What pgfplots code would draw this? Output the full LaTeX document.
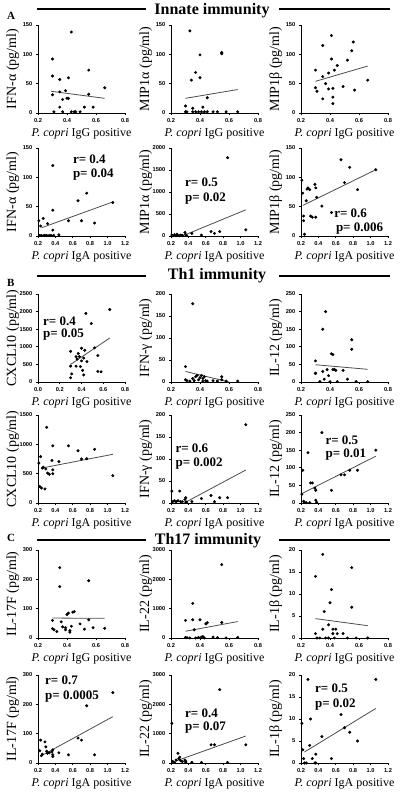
\documentclass[border=0pt]{standalone}
\usepackage{fontspec}
\setmainfont{Liberation Serif}
\newfontfamily\tickfont{Liberation Sans}
\usepackage{pgfplots}
\pgfplotsset{compat=1.18}
\tikzset{stat/.style={font=\bfseries\fontsize{13}{15}\selectfont, anchor=base west, inner sep=0pt}}
\begin{document}
\begin{tikzpicture}[x=1pt,y=1pt]
\useasboundingbox (0,0) rectangle (400,794);
\pgfplotsset{
 panel/.style={
  width=87pt, height=88pt, scale only axis, anchor=south west,
  axis lines=left, axis line style={-, line width=0.9pt},
  tick align=outside, major tick length=2.2pt, tick style={line width=0.8pt, black},
  clip=false, ymin=0,
  tick label style={font=\tickfont\bfseries\fontsize{5.7}{6}\selectfont},
  /pgf/number format/assume math mode=true,
  /pgf/number format/set thousands separator={},
  scaled y ticks=false, scaled x ticks=false,
  xticklabel style={/pgf/number format/fixed, /pgf/number format/precision=1, /pgf/number format/fixed zerofill},
  xtick pos=left, ytick pos=left,
  every axis y label/.style={at={(axis description cs:-0.29,0.5)}, rotate=90, anchor=center, font=\fontsize{14}{15}\selectfont},
  every axis x label/.style={at={(axis description cs:0.5,-0.235)}, anchor=center, font=\fontsize{12}{14}\selectfont},
 },
 igg/.style={xmin=0.2, xmax=0.8, xtick={0.2,0.4,0.6,0.8}, xlabel={\textit{P. copri} IgG positive}},
 iga/.style={xmin=0.2, xmax=1.2, xtick={0.2,0.4,0.6,0.8,1.0,1.2}, xlabel={\textit{P. copri} IgA positive}},
 dots/.style={only marks, mark=*, mark size=1.3pt, black},
 fit/.style={no marks, line width=0.8pt, black!70},
}
% ---------- headers ----------
\draw[line width=1.6pt] (37,785) -- (146,785);
\draw[line width=1.6pt] (279,785) -- (390,785);
\node[font=\bfseries\fontsize{16}{18}\selectfont, anchor=base] at (212,779) {Innate immunity};
\node[font=\bfseries\fontsize{11}{13}\selectfont, anchor=base west, inner sep=0pt] at (7,774) {A};
\draw[line width=1.6pt] (37,518) -- (146,518);
\draw[line width=1.6pt] (279,518) -- (390,518);
\node[font=\bfseries\fontsize{16}{18}\selectfont, anchor=base] at (217,514) {Th1 immunity};
\node[font=\bfseries\fontsize{11}{13}\selectfont, anchor=base west, inner sep=0pt] at (7,507) {B};
\draw[line width=1.6pt] (37,254) -- (146,254);
\draw[line width=1.6pt] (279,254) -- (390,254);
\node[font=\bfseries\fontsize{16}{18}\selectfont, anchor=base] at (208,249) {Th17 immunity};
\node[font=\bfseries\fontsize{11}{13}\selectfont, anchor=base west, inner sep=0pt] at (7,252) {C};

% ================= ROW 1 =================
\begin{axis}[panel, igg, at={(38pt,681pt)}, ymax=150, ytick={0,50,100,150}, ylabel={IFN-α (pg/ml)}]
\addplot[dots] coordinates {(0.30,92) (0.30,63) (0.30,31) (0.31,2) (0.35,57) (0.35,36) (0.35,10) (0.37,23) (0.37,2) (0.39,38) (0.40,25) (0.41,25) (0.41,60) (0.43,138) (0.43,2) (0.45,2) (0.46,2) (0.49,2) (0.52,10) (0.55,73) (0.55,32) (0.58,10) (0.66,43)};
\addplot[fit] coordinates {(0.29,37) (0.66,25)};
\end{axis}
\begin{axis}[panel, igg, at={(171pt,681pt)}, ymax=150, ytick={0,50,100,150}, ylabel={MIP1α (pg/ml)}]
\addplot[dots] coordinates {(0.30,12) (0.30,2) (0.31,2) (0.33,140) (0.34,56) (0.35,8) (0.35,2) (0.37,69) (0.37,2) (0.39,2) (0.40,99) (0.40,60) (0.41,2) (0.42,10) (0.43,2) (0.45,26) (0.45,2) (0.49,2) (0.52,2) (0.55,103) (0.55,101) (0.58,2) (0.66,2)};
\addplot[fit] coordinates {(0.30,25) (0.66,40)};
\end{axis}
\begin{axis}[panel, igg, at={(301pt,681pt)}, ymax=150, ytick={0,50,100,150}, ylabel={MIP1β (pg/ml)}]
\addplot[dots] coordinates {(0.30,73) (0.30,43) (0.31,37) (0.35,115) (0.35,62) (0.35,24) (0.37,50) (0.39,68) (0.39,41) (0.41,92) (0.41,132) (0.42,42) (0.42,27) (0.42,16) (0.43,73) (0.45,81) (0.49,45) (0.52,90) (0.56,121) (0.55,106) (0.57,39) (0.66,56)};
\addplot[fit] coordinates {(0.30,54) (0.66,80)};
\end{axis}

% ================= ROW 2 =================
\begin{axis}[panel, iga, at={(38pt,558pt)}, ymax=150, ytick={0,50,100,150}, ylabel={IFN-α (pg/ml)}]
\addplot[dots] coordinates {(0.21,26) (0.22,1) (0.23,17) (0.24,1) (0.26,30) (0.27,1) (0.28,1) (0.30,1) (0.31,21) (0.33,1) (0.35,1) (0.37,120) (0.37,44) (0.37,10) (0.38,1) (0.44,2) (0.55,26) (0.66,60) (0.70,26) (0.76,73) (0.85,22) (1.06,57)};
\addplot[fit] coordinates {(0.24,14) (1.06,58)};
\node[stat] at (axis cs:0.60,124) {r= 0.4};
\node[stat] at (axis cs:0.60,99) {p= 0.04};
\end{axis}
\begin{axis}[panel, iga, at={(171pt,558pt)}, ymax=2000, ytick={0,500,1000,1500,2000}, ylabel={MIP1α (pg/ml)}]
\addplot[dots] coordinates {(0.21,20) (0.22,5) (0.24,30) (0.25,10) (0.27,40) (0.28,10) (0.30,5) (0.31,20) (0.33,15) (0.36,80) (0.37,30) (0.38,10) (0.44,60) (0.55,20) (0.66,100) (0.70,60) (0.76,100) (0.85,1780) (1.06,140)};
\addplot[fit] coordinates {(0.33,0) (1.06,595)};
\node[stat] at (axis cs:0.36,1136) {r= 0.5};
\node[stat] at (axis cs:0.36,773) {p= 0.02};
\end{axis}
\begin{axis}[panel, iga, at={(301pt,558pt)}, ymax=150, ytick={0,50,100,150}, ylabel={MIP1β (pg/ml)}]
\addplot[dots] coordinates {(0.21,95) (0.22,73) (0.23,34) (0.23,26) (0.24,3) (0.26,60) (0.27,80) (0.28,82) (0.30,79) (0.31,34) (0.33,32) (0.36,88) (0.37,82) (0.37,32) (0.38,66) (0.44,51) (0.55,40) (0.66,130) (0.70,91) (0.76,117) (0.85,79) (1.06,113)};
\addplot[fit] coordinates {(0.22,52) (1.06,113)};
\node[stat] at (axis cs:0.58,32) {r= 0.6};
\node[stat] at (axis cs:0.60,7) {p= 0.006};
\end{axis}

% ================= ROW 3 =================
\begin{axis}[panel, at={(38pt,412pt)}, xmin=0, xmax=0.8, xtick={0,0.2,0.4,0.6,0.8}, xlabel={\textit{P. copri} IgG positive}, ymax=2500, ytick={0,500,1000,1500,2000,2500}, ylabel={CXCL10 (pg/ml)}]
\addplot[dots] coordinates {(0.30,870) (0.30,450) (0.30,120) (0.31,230) (0.35,450) (0.35,720) (0.36,650) (0.37,810) (0.38,720) (0.39,440) (0.40,960) (0.40,600) (0.41,330) (0.42,680) (0.42,200) (0.43,900) (0.44,1950) (0.45,580) (0.49,1660) (0.52,970) (0.55,750) (0.55,300) (0.58,290) (0.66,2060)};
\addplot[fit] coordinates {(0.30,500) (0.66,1250)};
\node[stat] at (axis cs:0.046,1619) {r= 0.4};
\node[stat] at (axis cs:0.046,1250) {p= 0.05};
\end{axis}
\begin{axis}[panel, igg, at={(171pt,412pt)}, ymax=200, ytick={0,50,100,150,200}, ylabel={IFN-γ (pg/ml)}]
\addplot[dots] coordinates {(0.30,35) (0.30,5) (0.31,3) (0.33,2) (0.35,178) (0.35,8) (0.36,3) (0.37,12) (0.38,15) (0.39,5) (0.40,10) (0.41,15) (0.42,2) (0.42,8) (0.43,12) (0.44,3) (0.45,2) (0.49,3) (0.52,2) (0.55,12) (0.55,5) (0.58,2) (0.66,2)};
\addplot[fit] coordinates {(0.30,24) (0.60,0)};
\end{axis}
\begin{axis}[panel, igg, at={(301pt,412pt)}, ymax=250, ytick={0,50,100,150,200,250}, ylabel={IL-12 (pg/ml)}]
\addplot[dots] coordinates {(0.30,60) (0.30,25) (0.30,24) (0.33,1) (0.35,150) (0.35,30) (0.36,8) (0.37,200) (0.38,35) (0.39,18) (0.40,1) (0.41,80) (0.42,78) (0.42,35) (0.43,36) (0.44,33) (0.45,1) (0.49,33) (0.52,8) (0.55,120) (0.55,93) (0.58,1) (0.66,1)};
\addplot[fit] coordinates {(0.30,49) (0.66,36)};
\end{axis}

% ================= ROW 4 =================
\begin{axis}[panel, iga, at={(38pt,291pt)}, ymax=1500, ytick={0,500,1000,1500}, ylabel={CXCL10 (pg/ml)}]
\addplot[dots] coordinates {(0.21,680) (0.22,280) (0.23,790) (0.24,255) (0.25,595) (0.26,610) (0.28,240) (0.29,580) (0.30,1290) (0.31,510) (0.33,490) (0.36,725) (0.37,975) (0.37,500) (0.37,565) (0.44,705) (0.55,975) (0.66,890) (0.70,750) (0.76,755) (0.85,915) (1.06,465)};
\addplot[fit] coordinates {(0.24,595) (1.06,830)};
\end{axis}
\begin{axis}[panel, iga, at={(171pt,291pt)}, ymax=200, ytick={0,50,100,150,200}, ylabel={IFN-γ (pg/ml)}]
\addplot[dots] coordinates {(0.21,27) (0.22,3) (0.24,5) (0.26,3) (0.28,5) (0.30,27) (0.31,3) (0.33,3) (0.36,8) (0.37,12) (0.37,2) (0.38,2) (0.44,3) (0.55,10) (0.66,17) (0.70,3) (0.76,12) (0.85,12) (1.06,178)};
\addplot[fit] coordinates {(0.37,2) (1.06,75)};
\node[stat] at (axis cs:0.25,114) {r= 0.6};
\node[stat] at (axis cs:0.25,82) {p= 0.002};
\end{axis}
\begin{axis}[panel, iga, at={(301pt,291pt)}, ymax=250, ytick={0,50,100,150,200,250}, ylabel={IL-12 (pg/ml)}]
\addplot[dots] coordinates {(0.21,25) (0.22,93) (0.23,5) (0.24,2) (0.26,1) (0.28,143) (0.30,1) (0.31,57) (0.33,57) (0.36,42) (0.37,36) (0.37,8) (0.38,2) (0.44,200) (0.55,36) (0.66,80) (0.70,80) (0.76,93) (0.85,93) (1.06,150)};
\addplot[fit] coordinates {(0.22,28) (1.06,133)};
\node[stat] at (axis cs:0.48,165) {r= 0.5};
\node[stat] at (axis cs:0.48,128) {p= 0.01};
\end{axis}

% ================= ROW 5 =================
\begin{axis}[panel, igg, at={(38pt,156pt)}, ymax=300, ytick={0,100,200,300}, ylabel={IL-17F (pg/ml)}]
\addplot[dots] coordinates {(0.30,60) (0.30,32) (0.31,28) (0.33,22) (0.35,240) (0.35,175) (0.36,55) (0.37,38) (0.39,28) (0.39,35) (0.40,80) (0.41,85) (0.42,25) (0.42,20) (0.43,40) (0.44,88) (0.45,90) (0.49,48) (0.52,30) (0.55,195) (0.55,62) (0.58,35) (0.66,33)};
\addplot[fit] coordinates {(0.30,68) (0.66,67)};
\end{axis}
\begin{axis}[panel, igg, at={(171pt,156pt)}, ymax=3000, ytick={0,1000,2000,3000}, ylabel={IL-22 (pg/ml)}]
\addplot[dots] coordinates {(0.30,600) (0.30,20) (0.31,10) (0.33,1) (0.35,1180) (0.35,620) (0.36,280) (0.37,1) (0.39,20) (0.40,620) (0.41,30) (0.42,50) (0.43,1) (0.44,480) (0.45,520) (0.49,30) (0.52,10) (0.55,2500) (0.55,530) (0.58,1) (0.66,20)};
\addplot[fit] coordinates {(0.30,230) (0.66,560)};
\end{axis}
\begin{axis}[panel, igg, at={(301pt,156pt)}, ymax=20, ytick={0,5,10,15,20}, ylabel={IL-1β (pg/ml)}]
\addplot[dots] coordinates {(0.30,14) (0.30,1) (0.31,0) (0.33,0) (0.35,19) (0.35,2) (0.36,6) (0.37,0) (0.39,3) (0.39,0) (0.40,8) (0.41,11) (0.42,2) (0.42,1) (0.43,0) (0.44,2) (0.45,1) (0.49,1) (0.52,0) (0.55,16) (0.55,7) (0.58,0) (0.66,0)};
\addplot[fit] coordinates {(0.30,4.4) (0.66,2.8)};
\end{axis}

% ================= ROW 6 =================
\begin{axis}[panel, iga, at={(38pt,31pt)}, ymax=300, ytick={0,100,200,300}, ylabel={IL-17F (pg/ml)}]
\addplot[dots] coordinates {(0.22,42) (0.23,78) (0.24,25) (0.25,30) (0.28,72) (0.29,55) (0.30,40) (0.31,33) (0.33,35) (0.36,38) (0.37,28) (0.37,22) (0.37,45) (0.44,35) (0.55,28) (0.66,85) (0.70,78) (0.76,195) (0.85,28) (1.06,240)};
\addplot[fit] coordinates {(0.24,25) (1.06,158)};
\node[stat] at (axis cs:0.28,266) {r= 0.7};
\node[stat] at (axis cs:0.28,218) {p= 0.0005};
\end{axis}
\begin{axis}[panel, iga, at={(171pt,31pt)}, ymax=3000, ytick={0,1000,2000,3000}, ylabel={IL-22 (pg/ml)}]
\addplot[dots] coordinates {(0.21,1350) (0.22,50) (0.24,20) (0.26,100) (0.28,330) (0.29,150) (0.30,200) (0.31,80) (0.33,50) (0.36,100) (0.37,60) (0.37,10) (0.44,20) (0.55,20) (0.66,620) (0.70,620) (0.76,2500) (0.85,20) (1.06,620)};
\addplot[fit] coordinates {(0.24,50) (1.06,920)};
\node[stat] at (axis cs:0.36,1568) {r= 0.4};
\node[stat] at (axis cs:0.36,1091) {p= 0.07};
\end{axis}
\begin{axis}[panel, iga, at={(301pt,31pt)}, ymax=20, ytick={0,5,10,15,20}, ylabel={IL-1β (pg/ml)}]
\addplot[dots] coordinates {(0.21,9) (0.22,3) (0.23,1) (0.24,0) (0.26,0) (0.28,19) (0.30,4) (0.31,10) (0.33,1) (0.36,0) (0.37,2) (0.37,0) (0.44,6) (0.55,1) (0.66,11) (0.70,8) (0.76,7) (0.85,5) (1.06,19)};
\addplot[fit] coordinates {(0.24,2.5) (1.06,12.4)};
\node[stat] at (axis cs:0.36,16.1) {r= 0.5};
\node[stat] at (axis cs:0.36,12.7) {p= 0.02};
\end{axis}
\end{tikzpicture}
\end{document}
